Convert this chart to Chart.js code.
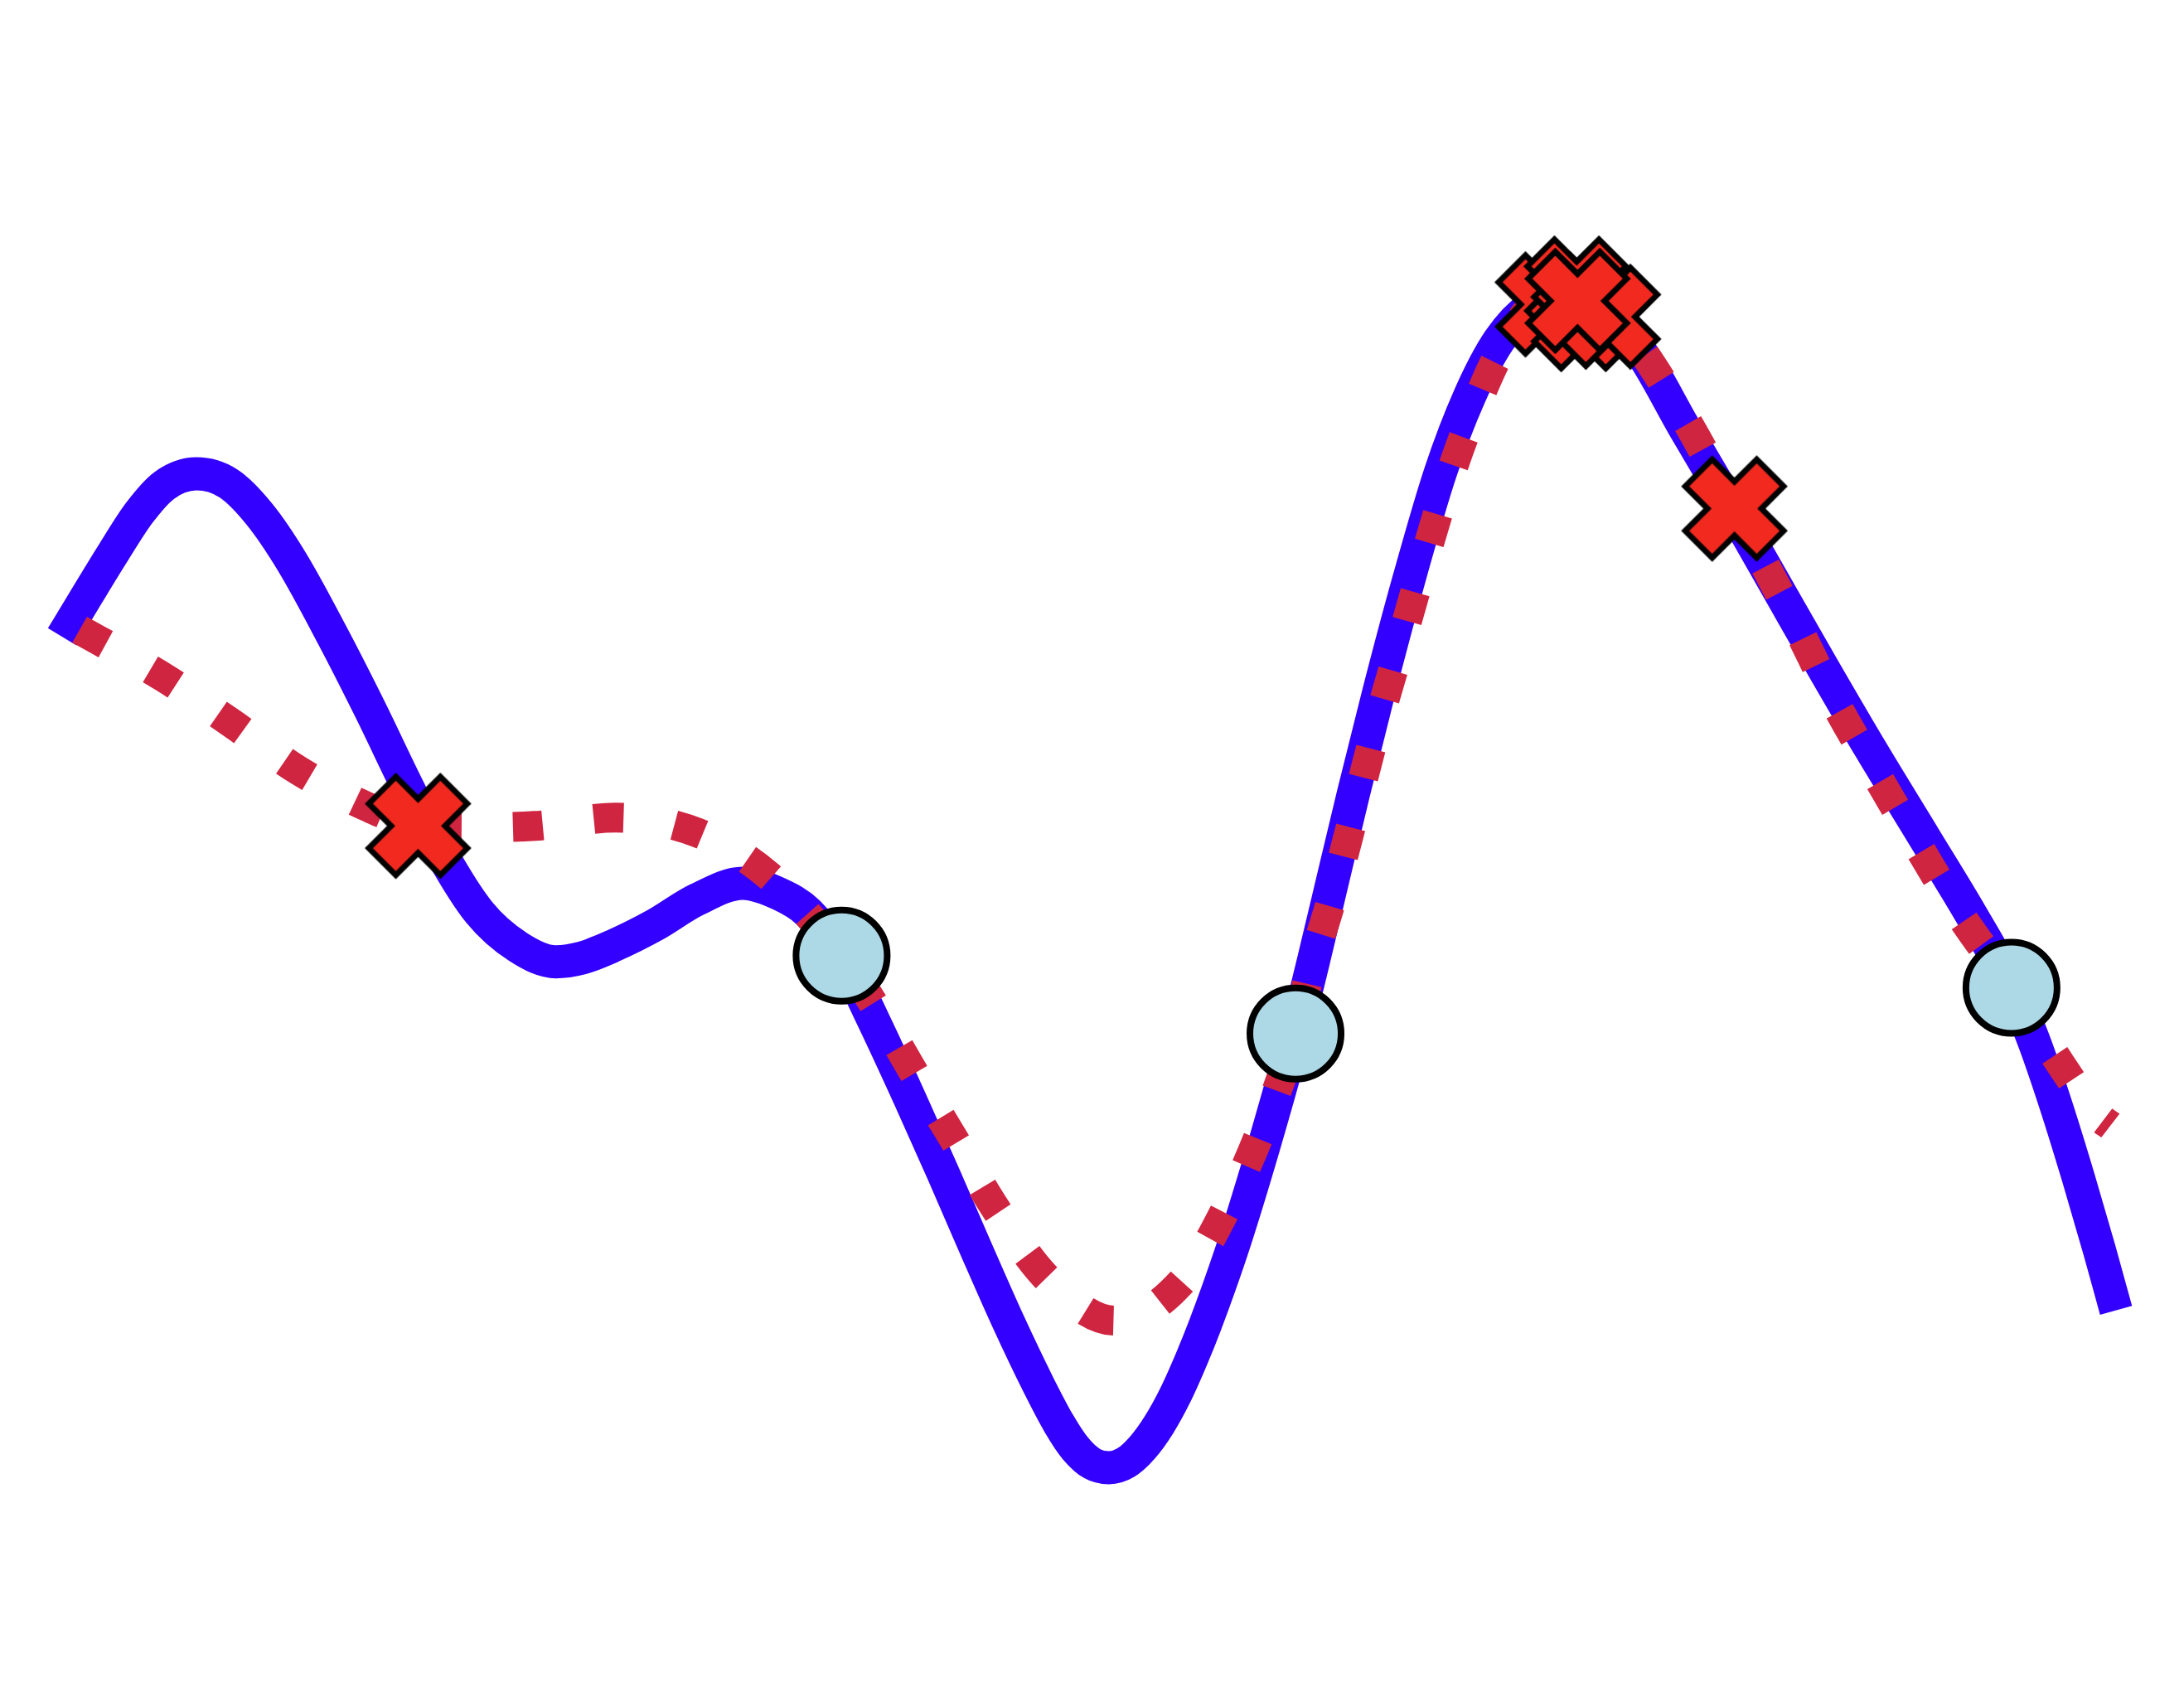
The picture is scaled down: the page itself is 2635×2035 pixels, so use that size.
<!DOCTYPE html>
<html>
<head>
<meta charset="utf-8">
<script src="https://cdn.jsdelivr.net/npm/chart.js@4.4.1/dist/chart.umd.min.js"></script>
<style>
    html, body { margin: 0; padding: 0; background: #ffffff; }
    #wrap { width: 2635px; height: 2035px; position: relative; }
</style>
</head>
<body>
<div id="wrap"><canvas id="chart"></canvas></div>
<script>
// true function (solid blue)
const trueX = [0.000, 0.125, 0.250, 0.376, 0.498, 0.654, 0.810, 0.960, 1.122, 1.319,
    1.502, 1.672, 1.848, 2.031, 2.221, 2.404, 2.526, 2.682, 2.886, 3.089,
    3.313, 3.496, 3.632, 3.795, 3.944, 4.127, 4.290, 4.446, 4.608, 4.751,
    4.853, 4.934, 5.015, 5.097, 5.178, 5.259, 5.341, 5.422, 5.500, 5.565,
    5.693, 5.802, 5.911, 6.001, 6.100, 6.195, 6.287, 6.409, 6.555, 6.711,
    6.853, 6.996, 7.158, 7.335, 7.497, 7.694, 7.898, 8.142, 8.399, 8.583,
    8.806, 9.064, 9.295, 9.491, 9.600, 9.708, 9.817, 9.919, 10.000];
const trueY = [0.831, 0.976, 1.118, 1.253, 1.346, 1.385, 1.352, 1.248, 1.082, 0.831,
    0.580, 0.334, 0.093, -0.106, -0.224, -0.274, -0.262, -0.220, -0.149, -0.063,
    -0.007, -0.045, -0.106, -0.255, -0.464, -0.739, -0.994, -1.245, -1.500, -1.709,
    -1.844, -1.929, -1.980, -1.994, -1.977, -1.926, -1.847, -1.744, -1.622, -1.509,
    -1.258, -1.015, -0.754, -0.527, -0.249, 0.030, 0.298, 0.639, 1.021, 1.391,
    1.650, 1.839, 1.958, 2.001, 1.955, 1.791, 1.542, 1.253, 0.938, 0.714,
    0.448, 0.152, -0.114, -0.361, -0.543, -0.763, -1.009, -1.254, -1.459];

// model mean (red dotted)
const meanX = [0.085, 0.492, 0.824, 1.150, 1.482, 1.733, 2.004, 2.302, 2.696, 3.096,
    3.435, 3.795, 3.957, 4.147, 4.351, 4.561, 4.805, 5.124, 5.463, 5.666,
    5.836, 6.005, 6.073, 6.182, 6.284, 6.385, 6.494, 6.603, 6.718, 6.854,
    7.010, 7.192, 7.348, 7.565, 7.864, 8.142, 8.440, 8.623, 8.820, 9.023,
    9.234, 9.491, 9.681, 9.919, 9.973];
const meanY = [0.855, 0.694, 0.538, 0.377, 0.254, 0.192, 0.183, 0.188, 0.216, 0.164,
    0.022, -0.253, -0.424, -0.651, -0.888, -1.130, -1.357, -1.494, -1.352, -1.115,
    -0.850, -0.518, -0.315, -0.059, 0.211, 0.486, 0.751, 1.021, 1.295, 1.565,
    1.811, 1.977, 2.015, 1.916, 1.617, 1.267, 0.874, 0.618, 0.377, 0.135,
    -0.107, -0.362, -0.570, -0.802, -0.831];

// observed points (light blue circles)
const obsX = [3.795, 6.005, 9.491];
const obsY = [-0.253, -0.518, -0.362];

// sampled points (red crosses), last one drawn on top
const sampleX = [1.733, 8.142, 7.233, 7.374, 7.407, 7.527, 7.378];
const sampleY = [0.188, 1.267, 1.961, 2.015, 1.911, 1.919, 1.973];

const toPoints = (xs, ys) => xs.map((x, i) => ({ x: x, y: ys[i] }));

// filled X marker with black edge
function makeCross() {
    const c = document.createElement('canvas');
    c.width = 140;
    c.height = 140;
    const g = c.getContext('2d');
    const L = 61, t = 23;
    const pts = [[t, -L], [t, -t], [L, -t], [L, t], [t, t], [t, L],
                 [-t, L], [-t, t], [-L, t], [-L, -t], [-t, -t], [-t, -L]];
    const k = Math.SQRT1_2;
    g.translate(70, 70);
    g.beginPath();
    pts.forEach((p, i) => {
        const rx = (p[0] - p[1]) * k;
        const ry = (p[0] + p[1]) * k;
        if (i === 0) g.moveTo(rx, ry); else g.lineTo(rx, ry);
    });
    g.closePath();
    g.fillStyle = '#f2291f';
    g.fill();
    g.lineWidth = 7;
    g.lineJoin = 'miter';
    g.strokeStyle = '#000000';
    g.stroke();
    return c;
}

const crossImg = makeCross();

new Chart(document.getElementById('chart'), {
    type: 'line',
    data: {
        datasets: [
            {
                label: 'samples',
                data: toPoints(sampleX, sampleY),
                showLine: false,
                pointStyle: crossImg,
                pointRadius: 8,
                pointHoverRadius: 8,
                clip: false,
                order: 0
            },
            {
                label: 'observations',
                data: toPoints(obsX, obsY),
                showLine: false,
                pointStyle: 'circle',
                pointRadius: 55,
                pointHoverRadius: 55,
                pointBackgroundColor: '#add8e6',
                pointBorderColor: '#000000',
                pointBorderWidth: 8,
                clip: false,
                order: 1
            },
            {
                label: 'mean',
                data: toPoints(meanX, meanY),
                borderColor: '#d02540',
                borderWidth: 36,
                borderDash: [36, 62],
                borderCapStyle: 'butt',
                pointRadius: 0,
                pointHoverRadius: 0,
                cubicInterpolationMode: 'monotone',
                fill: false,
                clip: false,
                order: 2
            },
            {
                label: 'true',
                data: toPoints(trueX, trueY),
                borderColor: '#3300ff',
                borderWidth: 40,
                borderCapStyle: 'butt',
                borderJoinStyle: 'round',
                pointRadius: 0,
                pointHoverRadius: 0,
                cubicInterpolationMode: 'monotone',
                fill: false,
                clip: false,
                order: 3
            }
        ]
    },
    options: {
        responsive: true,
        maintainAspectRatio: false,
        animation: false,
        devicePixelRatio: 1,
        layout: {
            padding: { left: 75, right: 82, top: 176, bottom: 85 }
        },
        plugins: {
            legend: { display: false },
            tooltip: { enabled: false }
        },
        scales: {
            x: { type: 'linear', min: 0, max: 10, display: false },
            y: { type: 'linear', min: -2.5, max: 2.5, display: false }
        }
    }
});
</script>
</body>
</html>
